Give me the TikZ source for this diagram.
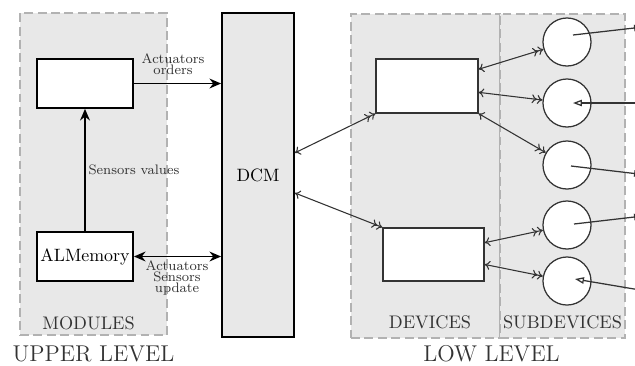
\documentclass[tikz,border=0pt]{standalone}
\usetikzlibrary{arrows.meta,calc}
\definecolor{ink}{gray}{0.2}
\tikzset{
  grp/.style={draw=black!30, fill=black!9, dash pattern=on 5pt off 2.5pt, line width=0.9pt, inner sep=0pt},
  blockbox/.style={draw=black, fill=white, line width=1pt, inner sep=0pt,
    minimum width=53.8pt, minimum height=27.4pt, font=\fontsize{10}{12}\selectfont},
  devbox/.style={draw=ink, fill=white, line width=0.7pt, inner sep=0pt},
  subdev/.style={circle, draw=ink, fill=white, line width=0.7pt, minimum size=26.9pt, inner sep=0pt},
  bigarrow/.style={line width=1pt, -{Stealth[length=6.5pt,width=5.5pt]}},
  bigdouble/.style={line width=1pt, {Stealth[length=6.5pt,width=5.5pt]}-{Stealth[length=6.5pt,width=5.5pt]}},
  link/.style={draw=ink, line width=0.6pt,
    {To[length=3pt,width=5pt]}-{To[length=3pt,width=5pt]To[length=3pt,width=5pt]}},
  outlink/.style={draw=ink, line width=0.7pt, -{Triangle[open,length=5pt,width=3.6pt]}},
  smalllab/.style={font=\fontsize{7.7}{6.2}\selectfont, text=ink, align=center, inner sep=0pt},
  grplab/.style={font=\fontsize{10.2}{12}\selectfont, text=ink, inner sep=0pt},
  levellab/.style={font=\fontsize{12.8}{15}\selectfont, text=ink, inner sep=0pt},
}
\begin{document}
\begin{tikzpicture}[x=0.56pt, y=-0.56pt]
\useasboundingbox (0,0) rectangle (635,365);
\clip (0,0) rectangle (635,365);

% grouping frames
\node[grp, minimum width=82.3pt, minimum height=180.3pt] (modules) at (93.5,174) {};
\node[grp, minimum width=83.4pt, minimum height=181.4pt] (devices) at (425.5,176) {};
\node[grp, minimum width=70pt, minimum height=181.4pt] (subdevices) at (562.5,176) {};

% upper level blocks
\node[blockbox] (mod) at (85,83.5) {};
\node[blockbox] (mem) at (85,256.5) {ALMemory};
\node[draw=black, fill=black!9, line width=1pt, minimum width=40.3pt, minimum height=181.4pt,
      font=\fontsize{10}{12}\selectfont] (dcm) at (258,175) {DCM};

% low level blocks
\node[devbox, minimum width=57.1pt, minimum height=30.2pt] (d1) at (427,86) {};
\node[devbox, minimum width=56.6pt, minimum height=29.7pt] (d2) at (433.5,254.5) {};
\foreach \n/\y in {1/42, 2/103, 3/165, 4/225, 5/281}
  \node[subdev] (c\n) at (567,\y) {};

% upper level connections
\draw[bigarrow] (mem.north) -- (mod.south)
  node[pos=0.5, right=1.5pt, smalllab] (sv) {Sensors values};
\draw[bigarrow] (mod.east) -- (mod.east -| dcm.west);
\node[smalllab] (ao) at (173,64.5) {Actuators\\orders};
\draw[bigdouble] (mem.east) -- (mem.east -| dcm.west);
\node[smalllab, font=\fontsize{7.7}{6.0}\selectfont] (asu) at (177,278) {Actuators\\Sensors\\update};

% DCM to devices
\draw[link] (dcm.31.4) -- (d1.south west);
\draw[link] (dcm.-26.6) -- (d2.north west);

% devices to subdevices
\draw[link] (d1.18.4) -- (c1);
\draw[link] (d1.-7.8) -- (c2);
\draw[link] (d1.south east) -- (c3);
\draw[link] (d2.13.9) -- (c4);
\draw[link] (d2.-11.7) -- (c5);

% subdevice lines leaving to the right
\coordinate (s1) at (573,35);   \coordinate (o1) at (643,27);
\coordinate (s2) at (573,103);  \coordinate (o2) at (643,103);
\coordinate (s3) at (571,166);  \coordinate (o3) at (643,174.5);
\coordinate (s4) at (574,224);  \coordinate (o4) at (643,216);
\coordinate (s5) at (575,279);  \coordinate (o5) at (643,290.5);
\draw[outlink] (s1) -- (o1);
\draw[outlink] (o2) -- (s2);
\draw[outlink] (s3) -- (o3);
\draw[outlink] (s4) -- (o4);
\draw[outlink] (o5) -- (s5);

% labels
\node[grplab] (lmod) at (88.5,323) {MODULES};
\node[grplab] (ldev) at (430,322.5) {DEVICES};
\node[grplab] (lsub) at (562.5,322.5) {SUBDEVICES};
\node[levellab] (lup) at (93.5,354) {UPPER LEVEL};
\node[levellab] (llow) at (491.5,354) {LOW LEVEL};
\end{tikzpicture}
\end{document}
